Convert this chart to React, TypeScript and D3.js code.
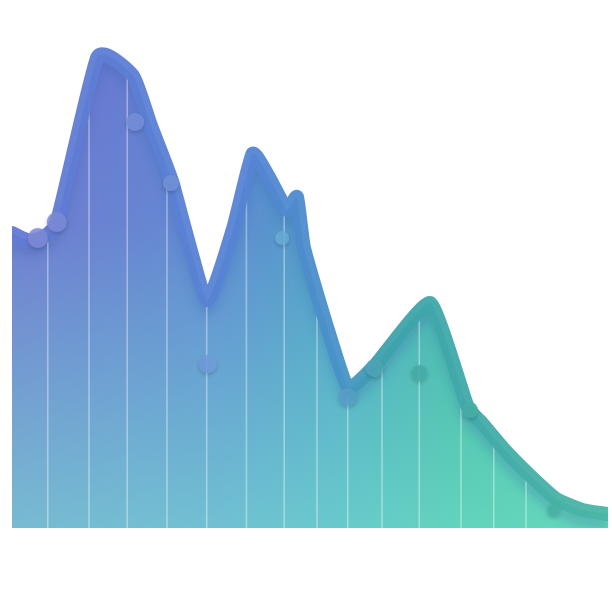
import React from "react";
import * as d3 from "d3";

// Series (x in days 0-60, y in value 0-100)
const X_DAYS = [0, 2.0, 4.5, 8.6, 12.2, 14.0, 16.1, 19.6, 22.3, 24.2, 25.8, 27.7, 28.7, 29.4, 31.5, 33.8, 36.5, 42.1, 45.8, 47.3, 49.6, 52.2, 54.8, 57.4, 60];
const Y_VALUES = [59, 57.4, 61.2, 94.2, 90.4, 80.4, 69.4, 45.6, 60.2, 74.8, 70.4, 63.6, 66.2, 56.0, 41.6, 28.2, 32.4, 45, 24.6, 21, 15.6, 10.4, 5.8, 3.6, 2.8];

// Marker points
const MARK_X = [2.6, 4.5, 12.4, 16.0, 19.7, 27.2, 33.8, 36.5, 41.0, 46.1, 54.5];
const MARK_Y = [58, 61.2, 81.2, 69, 32.8, 58, 26.2, 32, 31, 23.6, 3.6];
const MARK_SIZE = [10, 10, 9, 8, 9, 7, 9, 9, 8, 8, 6];

// Vertical guide positions (days)
const GRID_X = [3.6, 7.75, 11.6, 15.6, 19.6, 23.6, 27.4, 30.7, 33.8, 37.25, 41.0, 45.2, 48.5, 51.75];

const W = 612;
const H = 612;

export default function App() {
  const x = d3.scaleLinear().domain([0, 60]).range([12, 608]);
  const y = d3.scaleLinear().domain([0, 100]).range([528, 28]);
  const pts: [number, number][] = X_DAYS.map((d, i) => [d, Y_VALUES[i]]);
  const curve = d3.curveCardinal.tension(0.55);

  const area = d3
    .area<[number, number]>()
    .x((d) => x(d[0]))
    .y0(y(0))
    .y1((d) => y(d[1]))
    .curve(curve);
  const line = d3
    .line<[number, number]>()
    .x((d) => x(d[0]))
    .y((d) => y(d[1]))
    .curve(curve);

  const areaD = area(pts) || "";
  const lineD = line(pts) || "";

  return (
    <svg
      width={W}
      height={H}
      style={{ position: "absolute", left: 0, top: 0, background: "#fff" }}
    >
      <defs>
        <linearGradient id="baseGrad" gradientUnits="userSpaceOnUse" x1={12} y1={0} x2={608} y2={0}>
          <stop offset="0" stopColor="#7073d0" />
          <stop offset="0.35" stopColor="#5e82d2" />
          <stop offset="0.55" stopColor="#4a98c4" />
          <stop offset="0.75" stopColor="#3cae9f" />
          <stop offset="1" stopColor="#40b898" />
        </linearGradient>
        <linearGradient id="lightGrad" gradientUnits="userSpaceOnUse" x1={0} y1={60} x2={0} y2={528}>
          <stop offset="0" stopColor="#7aefd4" stopOpacity="0" />
          <stop offset="0.35" stopColor="#7aefd4" stopOpacity="0.08" />
          <stop offset="1" stopColor="#7eeed2" stopOpacity="0.58" />
        </linearGradient>
        <linearGradient id="lineGrad" gradientUnits="userSpaceOnUse" x1={12} y1={0} x2={608} y2={0}>
          <stop offset="0" stopColor="#6379d4" />
          <stop offset="0.4" stopColor="#5584d4" />
          <stop offset="0.55" stopColor="#4792c8" />
          <stop offset="0.62" stopColor="#3ca2ab" />
          <stop offset="1" stopColor="#4ab6a5" />
        </linearGradient>
        <linearGradient id="markGrad" gradientUnits="userSpaceOnUse" x1={12} y1={0} x2={608} y2={0}>
          <stop offset="0" stopColor="#8088d6" />
          <stop offset="0.3" stopColor="#6f92d8" />
          <stop offset="0.4" stopColor="#70b2da" />
          <stop offset="0.55" stopColor="#5a9ccc" />
          <stop offset="0.65" stopColor="#45aaa8" />
          <stop offset="1" stopColor="#4ab5a2" />
        </linearGradient>
        <clipPath id="areaClip">
          <path d={areaD} />
        </clipPath>
        <clipPath id="boxClip">
          <rect x={12} y={0} width={596} height={528} />
        </clipPath>
        <filter id="blur" x="-10%" y="-10%" width="120%" height="120%">
          <feGaussianBlur stdDeviation="5" />
        </filter>
        <filter id="softShadow" x="-50%" y="-50%" width="200%" height="200%">
          <feGaussianBlur in="SourceAlpha" stdDeviation="2" />
          <feOffset dy="2" result="b" />
          <feComponentTransfer>
            <feFuncA type="linear" slope="0.22" />
          </feComponentTransfer>
          <feMerge>
            <feMergeNode />
            <feMergeNode in="SourceGraphic" />
          </feMerge>
        </filter>
      </defs>

      {/* area fill */}
      <path d={areaD} fill="url(#baseGrad)" />
      <path d={areaD} fill="url(#lightGrad)" />

      {/* shadow below the line and vertical guides */}
      <g clipPath="url(#areaClip)">
        <path
          d={lineD}
          transform="translate(0,9)"
          fill="none"
          stroke="#2f5aa8"
          strokeOpacity={0.25}
          strokeWidth={14}
          filter="url(#blur)"
        />
        {GRID_X.map((g, i) => (
          <line
            key={i}
            x1={x(g)}
            x2={x(g)}
            y1={y(0)}
            y2={y(100)}
            stroke="#ffffff"
            strokeOpacity={0.38}
            strokeWidth={1.6}
          />
        ))}
      </g>

      {/* top line */}
      <g clipPath="url(#boxClip)">
        <path
          d={lineD}
          fill="none"
          stroke="url(#lineGrad)"
          strokeWidth={14}
          strokeLinejoin="round"
          strokeLinecap="round"
          strokeOpacity={0.95}
        />
      </g>

      {/* markers */}
      <g filter="url(#softShadow)">
        {MARK_X.map((mx, i) => (
          <circle
            key={i}
            cx={x(mx)}
            cy={y(MARK_Y[i])}
            r={MARK_SIZE[i]}
            fill="url(#markGrad)"
            fillOpacity={0.85}
          />
        ))}
      </g>
    </svg>
  );
}
